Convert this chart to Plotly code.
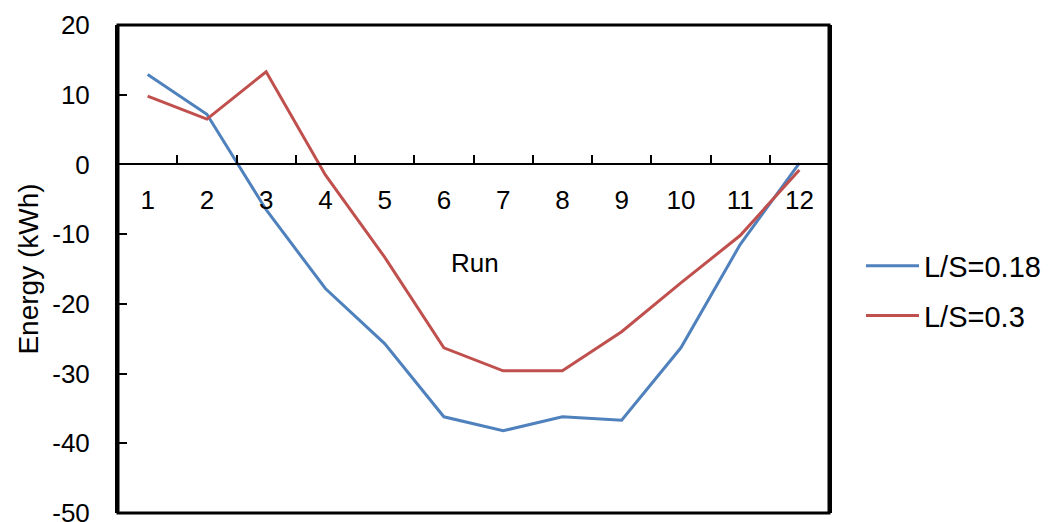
import plotly.graph_objects as go

runs = [str(i) for i in range(1, 13)]
energy_ls018 = [12.9, 7.2, -6.5, -17.8, -25.7, -36.2, -38.2, -36.2, -36.7, -26.3, -11.5, 0.2]
energy_ls03 = [9.8, 6.5, 13.3, -1.5, -13.3, -26.3, -29.6, -29.6, -24.0, -17.0, -10.2, -0.8]
y_ticks = [20, 10, 0, -10, -20, -30, -40, -50]
y_tick_text = [str(v) for v in y_ticks]

FONT = "Liberation Sans, Arial, sans-serif"
BLUE = "#4F81BD"
RED = "#C0504D"

fig = go.Figure()
fig.add_trace(go.Scatter(x=runs, y=energy_ls018, mode="lines", name="L/S=0.18",
                         line=dict(color=BLUE, width=3), legendgroup="a"))
fig.add_trace(go.Scatter(x=runs, y=energy_ls03, mode="lines", name="L/S=0.3",
                         line=dict(color=RED, width=3), legendgroup="b"))

y_min, y_max = -50, 20
zero_pos = (0 - y_min) / (y_max - y_min)

fig.update_layout(
    width=1054, height=522,
    margin=dict(l=118, r=225, t=25, b=9, autoexpand=False),
    paper_bgcolor="white", plot_bgcolor="white",
    font=dict(family=FONT, size=26, color="black"),
    showlegend=True,
    legend=dict(x=1.045, y=0.455, xanchor="left", yanchor="middle",
                font=dict(size=29), tracegroupgap=9, itemwidth=53,
                bgcolor="rgba(0,0,0,0)"),
    xaxis=dict(
        type="category", categoryorder="array", categoryarray=runs,
        range=[-0.5, 11.5],
        anchor="free", position=zero_pos,
        showline=True, linecolor="black", linewidth=2,
        ticks="inside", tickson="boundaries", ticklen=8, tickwidth=2, tickcolor="black",
        ticklabelstandoff=12,
        showgrid=False, zeroline=False,
        tickfont=dict(size=26),
    ),
    yaxis=dict(
        range=[y_min, y_max], tickvals=y_ticks, ticktext=y_tick_text,
        showline=True, linecolor="black", linewidth=3, mirror=True,
        ticks="inside", ticklen=9, tickwidth=2, tickcolor="black",
        ticklabelstandoff=20, ticklabeloverflow="allow",
        showgrid=False, zeroline=False,
        tickfont=dict(size=26),
        title=dict(text="Energy (kWh)", font=dict(size=28), standoff=6),
    ),
)

# Outer frame of the plot area
fig.add_shape(type="rect", xref="paper", yref="paper", x0=0, x1=1, y0=0, y1=1,
              line=dict(color="black", width=3), layer="above")

# Axis title placed inside the plot area
fig.add_annotation(text="Run", xref="paper", yref="paper", x=0.502, y=0.512,
                   showarrow=False, font=dict(size=26))

fig.write_html("out.html")
